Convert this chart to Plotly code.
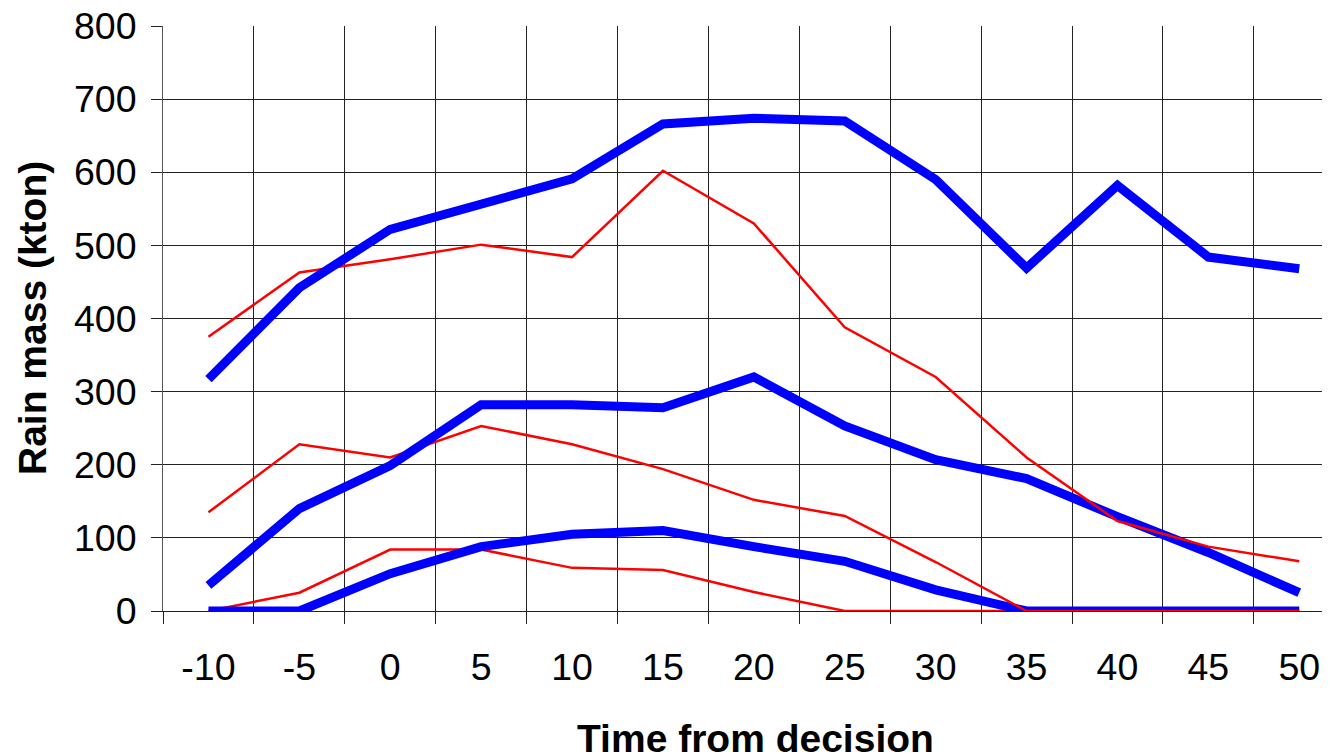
import plotly.graph_objects as go

categories = ["-10", "-5", "0", "5", "10", "15", "20", "25", "30", "35", "40", "45", "50"]

blue_high = [317, 442, 522, 556, 591, 666, 674, 670, 590, 469, 582, 484, 468]
blue_mid = [35, 140, 199, 282, 282, 278, 320, 253, 207, 181, 129, 80, 25]
blue_low = [0, 0, 51, 88, 105, 110, 88, 68, 29, 0, 0, 0, 0]

red_high = [375, 463, 481, 501, 484, 602, 530, 388, 320, 210, 123, 88, 68]
red_mid = [135, 228, 210, 253, 228, 194, 152, 130, 67, 0, 0, 0, 0]
red_low = [0, 25, 84, 84, 59, 56, 26, 0, 0, 0, 0, 0, 0]

y_ticks = [0, 100, 200, 300, 400, 500, 600, 700, 800]

fig = go.Figure()

order = [
    (red_low, "red"), (blue_low, "blue"),
    (red_mid, "red"), (blue_mid, "blue"),
    (red_high, "red"), (blue_high, "blue"),
]
for vals, col in order:
    if col == "blue":
        line = dict(color="#0000FF", width=9)
    else:
        line = dict(color="#FF0000", width=2.5)
    fig.add_trace(go.Scatter(x=categories, y=vals, mode="lines", line=line,
                             showlegend=False, hoverinfo="skip"))

FONT = "Liberation Sans, Arial, sans-serif"
W, H = 1330, 755
# page body has an 8px margin, so the figure is offset by 8px on screen
L, T = 155, 18
PLOT_H = 585
B = H - T - PLOT_H
plot_w = W - L
cat_w = 90.9
xmax = -0.5 + plot_w / cat_w
bottom_px = T + PLOT_H

fig.update_layout(
    template="none",
    width=W, height=H,
    margin=dict(l=L, r=0, t=T, b=B, pad=0, autoexpand=False),
    paper_bgcolor="white", plot_bgcolor="white",
    font=dict(family=FONT, color="black"),
    xaxis=dict(
        type="category", categoryorder="array", categoryarray=categories,
        range=[-0.5, xmax], tickson="boundaries", automargin=False,
        showgrid=True, gridcolor="#222222", gridwidth=1,
        ticks="outside", ticklen=12, tickcolor="#222222", tickwidth=1,
        showline=True, linecolor="#222222", linewidth=1,
        tickfont=dict(size=37.5, family=FONT, color="black"),
        ticklabelstandoff=23, ticklabeloverflow="allow",
        zeroline=False, fixedrange=True,
    ),
    yaxis=dict(
        range=[0, 800], tickvals=y_ticks, ticktext=[str(v) for v in y_ticks],
        automargin=False,
        showgrid=True, gridcolor="#222222", gridwidth=1,
        ticks="outside", ticklen=11, tickcolor="#222222", tickwidth=1,
        showline=True, linecolor="#555555", linewidth=1,
        tickfont=dict(size=37.5, family=FONT, color="black"),
        ticklabelstandoff=7, ticklabeloverflow="allow",
        zeroline=False, fixedrange=True,
    ),
    annotations=[
        dict(text="<b>Time from decision</b>", xref="paper", yref="paper",
             x=(747 - L) / plot_w, y=(bottom_px - 730) / PLOT_H,
             xanchor="center", yanchor="middle",
             showarrow=False, font=dict(size=39, family=FONT, color="black")),
        dict(text="<b>Rain mass (kton)</b>", xref="paper", yref="paper",
             x=(24 - L) / plot_w, y=(bottom_px - 310) / PLOT_H,
             xanchor="center", yanchor="middle",
             textangle=-90, showarrow=False, font=dict(size=39, family=FONT, color="black")),
    ],
)

fig.write_html("out.html")
